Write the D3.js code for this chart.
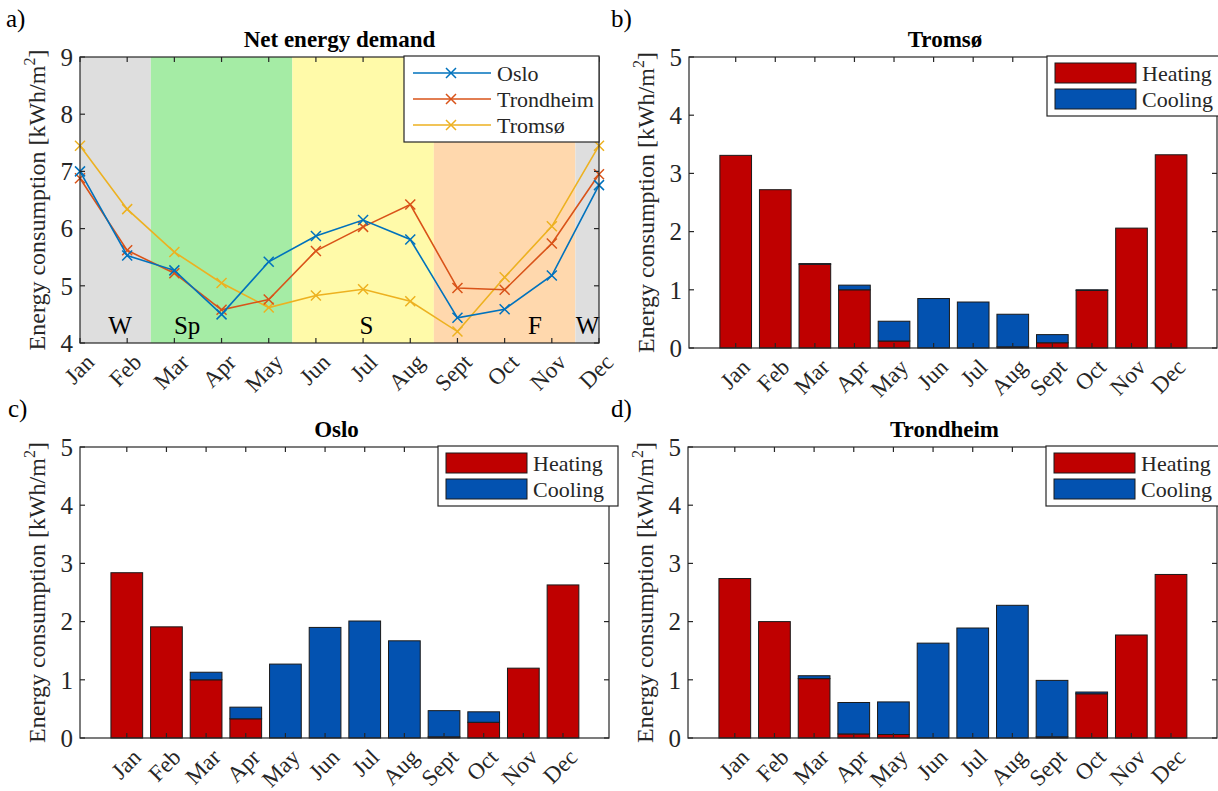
<!DOCTYPE html>
<html>
<head>
<meta charset="utf-8">
<script src="https://cdn.jsdelivr.net/npm/d3@7"></script>
<style>
  html, body { margin: 0; padding: 0; background: #fff; }
  svg text { font-family: "Times New Roman", "Liberation Serif", "DejaVu Serif", serif; }
</style>
</head>
<body>
<svg id="chart" width="1218" height="791"></svg>
<script>
// Month categories shared by all four panels
const months = ["Jan", "Feb", "Mar", "Apr", "May", "Jun", "Jul", "Aug", "Sept", "Oct", "Nov", "Dec"];

// Net monthly energy demand [kWh/m2]
const osloNet      = [7.00, 5.53, 5.27, 4.50, 5.42, 5.87, 6.15, 5.81, 4.44, 4.59, 5.18, 6.76];
const trondheimNet = [6.88, 5.62, 5.22, 4.58, 4.76, 5.61, 6.03, 6.42, 4.96, 4.93, 5.74, 6.95];
const tromsoNet    = [7.45, 6.34, 5.59, 5.05, 4.62, 4.83, 4.94, 4.73, 4.20, 5.15, 6.04, 7.45];

// Heating and cooling demand per city [kWh/m2]
const tromsoHeating    = [3.31, 2.72, 1.44, 1.00, 0.12, 0.00, 0.00, 0.02, 0.09, 0.99, 2.06, 3.32];
const tromsoCooling    = [0.00, 0.00, 0.01, 0.08, 0.34, 0.85, 0.79, 0.56, 0.14, 0.01, 0.00, 0.00];
const osloHeating      = [2.84, 1.91, 1.00, 0.33, 0.00, 0.00, 0.00, 0.00, 0.02, 0.27, 1.20, 2.63];
const osloCooling      = [0.00, 0.00, 0.13, 0.20, 1.27, 1.90, 2.01, 1.67, 0.45, 0.18, 0.00, 0.00];
const trondheimHeating = [2.74, 2.00, 1.02, 0.07, 0.06, 0.00, 0.00, 0.00, 0.02, 0.76, 1.77, 2.81];
const trondheimCooling = [0.00, 0.00, 0.05, 0.54, 0.56, 1.63, 1.89, 2.28, 0.97, 0.03, 0.00, 0.00];

// Seasons (month index ranges) and their labels
const seasonLabels = ["W", "Sp", "S", "F", "W"];
const seasonStart  = [1, 2.5, 5.5, 8.5, 11.5];
const seasonEnd    = [2.5, 5.5, 8.5, 11.5, 12];
const seasonLabelX = [1.85, 3.27, 7.07, 10.64, 11.76];

// Axis tick values
const netTicks = [4, 5, 6, 7, 8, 9];
const barTicks = [0, 1, 2, 3, 4, 5];

const seasonColors = ["#dedede", "#a5eca5", "#fffaa9", "#ffd8ad", "#dedede"];
const cityColors = { Oslo: "#0072bd", Trondheim: "#d95319", "Tromsø": "#edb120" };
const heatColor = "#bf0000";
const coolColor = "#0352b0";
const axisColor = "#262626";
const textColor = "#262626";
const serif = "'Times New Roman', 'Liberation Serif', 'DejaVu Serif', serif";

const svg = d3.select("#chart").attr("font-family", serif);
svg.append("rect").attr("width", 1218).attr("height", 791).attr("fill", "#fff");

function yLabel(g, x, yMid) {
  const t = g.append("text")
    .attr("transform", `translate(${x},${yMid}) rotate(-90)`)
    .attr("text-anchor", "middle")
    .attr("font-size", 24)
    .attr("fill", textColor);
  t.append("tspan").text("Energy consumption [kWh/m");
  t.append("tspan").attr("dy", -10).attr("font-size", 16).text("2");
  t.append("tspan").attr("dy", 10).text("]");
}

function frameAndTicks(g, x, y, xTicks, yTicks, L, R, T, B) {
  const tk = 5;
  const ax = g.append("g").attr("stroke", axisColor).attr("stroke-width", 1.2).attr("fill", "none");
  xTicks.forEach(v => {
    ax.append("line").attr("x1", x(v)).attr("x2", x(v)).attr("y1", B).attr("y2", B - tk);
    ax.append("line").attr("x1", x(v)).attr("x2", x(v)).attr("y1", T).attr("y2", T + tk);
  });
  yTicks.forEach(v => {
    ax.append("line").attr("x1", L).attr("x2", L + tk).attr("y1", y(v)).attr("y2", y(v));
    ax.append("line").attr("x1", R).attr("x2", R - tk).attr("y1", y(v)).attr("y2", y(v));
  });
  ax.append("rect").attr("x", L).attr("y", T).attr("width", R - L).attr("height", B - T);

  // y tick labels
  g.append("g").selectAll("text").data(yTicks).join("text")
    .attr("x", L - 7).attr("y", d => y(d)).attr("dy", "0.35em")
    .attr("text-anchor", "end").attr("font-size", 25).attr("fill", textColor)
    .text(d => d);

  // rotated month labels
  g.append("g").selectAll("text").data(xTicks).join("text")
    .attr("transform", d => `translate(${x(d) + 10},${B + 15}) rotate(-45)`)
    .attr("text-anchor", "end").attr("dy", "0.35em")
    .attr("font-size", 23).attr("fill", textColor)
    .text((d, i) => months[i]);
}

function panelLetter(txt, x, y) {
  svg.append("text").attr("x", x).attr("y", y).attr("font-size", 25)
    .attr("fill", "#000").text(txt);
}

// ---------- Panel a: net energy demand lines ----------
(function () {
  const L = 80, R = 599, T = 57, B = 343;
  const g = svg.append("g");
  const x = d3.scaleLinear().domain([1, 12]).range([L, R]);
  const y = d3.scaleLinear().domain([4, 9]).range([B, T]);
  const idx = d3.range(1, 13);

  // season background bands
  g.append("g").selectAll("rect").data(seasonLabels).join("rect")
    .attr("x", (d, i) => x(seasonStart[i]))
    .attr("width", (d, i) => x(seasonEnd[i]) - x(seasonStart[i]))
    .attr("y", T).attr("height", B - T)
    .attr("fill", (d, i) => seasonColors[i]);

  g.append("g").selectAll("text").data(seasonLabels).join("text")
    .attr("x", (d, i) => x(seasonLabelX[i])).attr("y", B - 9)
    .attr("text-anchor", "middle").attr("font-size", 25).attr("fill", "#000")
    .text(d => d);

  const series = [
    { name: "Oslo", values: osloNet },
    { name: "Trondheim", values: trondheimNet },
    { name: "Tromsø", values: tromsoNet }
  ];
  const line = d3.line().x((d, i) => x(idx[i])).y(d => y(d));
  const ms = 5;
  const cross = (gg, cx, cy, col) => {
    gg.append("path")
      .attr("d", `M${cx - ms},${cy - ms}L${cx + ms},${cy + ms}M${cx - ms},${cy + ms}L${cx + ms},${cy - ms}`)
      .attr("stroke", col).attr("stroke-width", 1.5).attr("fill", "none");
  };
  // draw in reverse so Oslo ends on top
  series.slice().reverse().forEach(s => {
    const col = cityColors[s.name];
    g.append("path").datum(s.values).attr("d", line)
      .attr("fill", "none").attr("stroke", col).attr("stroke-width", 1.6);
    s.values.forEach((v, i) => cross(g, x(idx[i]), y(v), col));
  });

  frameAndTicks(g, x, y, idx, netTicks, L, R, T, B);

  g.append("text").attr("x", (L + R) / 2).attr("y", 47).attr("text-anchor", "middle")
    .attr("font-size", 23).attr("font-weight", "bold").attr("fill", "#000")
    .text("Net energy demand");
  yLabel(g, L - 35, (T + B) / 2);

  // legend
  const lg = g.append("g");
  lg.append("rect").attr("x", 404).attr("y", 56).attr("width", 195).attr("height", 86)
    .attr("fill", "#fff").attr("stroke", axisColor).attr("stroke-width", 1.2);
  series.forEach((s, i) => {
    const yy = 73 + i * 26;
    const col = cityColors[s.name];
    lg.append("line").attr("x1", 413).attr("x2", 491).attr("y1", yy).attr("y2", yy)
      .attr("stroke", col).attr("stroke-width", 1.6);
    cross(lg, 451, yy, col);
    lg.append("text").attr("x", 497).attr("y", yy).attr("dy", "0.35em")
      .attr("font-size", 22).attr("fill", textColor).text(s.name);
  });
})();

// ---------- Panels b, c, d: stacked heating / cooling bars ----------
function barPanel(title, heating, cooling, L, R, T, B) {
  const g = svg.append("g");
  const x = d3.scaleLinear().domain([-0.18, 13.16]).range([L, R]);
  const y = d3.scaleLinear().domain([0, 5]).range([B, T]);
  const idx = d3.range(1, 13);
  const bw = x(0.8) - x(0);

  const bars = g.append("g").attr("stroke", "#1a1a1a").attr("stroke-width", 1);
  bars.selectAll("rect.h").data(heating).join("rect").attr("class", "h")
    .attr("x", (d, i) => x(idx[i]) - bw / 2).attr("width", bw)
    .attr("y", d => y(d)).attr("height", d => y(0) - y(d))
    .attr("fill", heatColor);
  bars.selectAll("rect.c").data(cooling).join("rect").attr("class", "c")
    .attr("x", (d, i) => x(idx[i]) - bw / 2).attr("width", bw)
    .attr("y", (d, i) => y(heating[i] + d)).attr("height", (d, i) => y(heating[i]) - y(heating[i] + d))
    .attr("fill", coolColor);

  frameAndTicks(g, x, y, idx, barTicks, L, R, T, B);

  g.append("text").attr("x", (L + R) / 2 - 8).attr("y", 47 + (T - 57)).attr("text-anchor", "middle")
    .attr("font-size", 23).attr("font-weight", "bold").attr("fill", "#000")
    .text(title);
  yLabel(g, L - 35, (T + B) / 2);

  // legend
  const lx = L + 358, ly = T - 1;
  const lg = g.append("g");
  lg.append("rect").attr("x", lx).attr("y", ly).attr("width", 180).attr("height", 60)
    .attr("fill", "#fff").attr("stroke", axisColor).attr("stroke-width", 1.2);
  [["Heating", heatColor], ["Cooling", coolColor]].forEach(([name, col], i) => {
    const yy = ly + 7 + i * 26;
    lg.append("rect").attr("x", lx + 8).attr("y", yy).attr("width", 81).attr("height", 20)
      .attr("fill", col).attr("stroke", "#1a1a1a").attr("stroke-width", 1);
    lg.append("text").attr("x", lx + 95).attr("y", yy + 10).attr("dy", "0.35em")
      .attr("font-size", 22).attr("fill", textColor).text(name);
  });
}

barPanel("Tromsø", tromsoHeating, tromsoCooling, 689, 1217, 57, 348);
barPanel("Oslo", osloHeating, osloCooling, 80, 609, 447, 738);
barPanel("Trondheim", trondheimHeating, trondheimCooling, 688, 1217, 447, 738);

panelLetter("a)", 6, 27);
panelLetter("b)", 611, 27);
panelLetter("c)", 8, 417);
panelLetter("d)", 611, 417);
</script>
</body>
</html>
